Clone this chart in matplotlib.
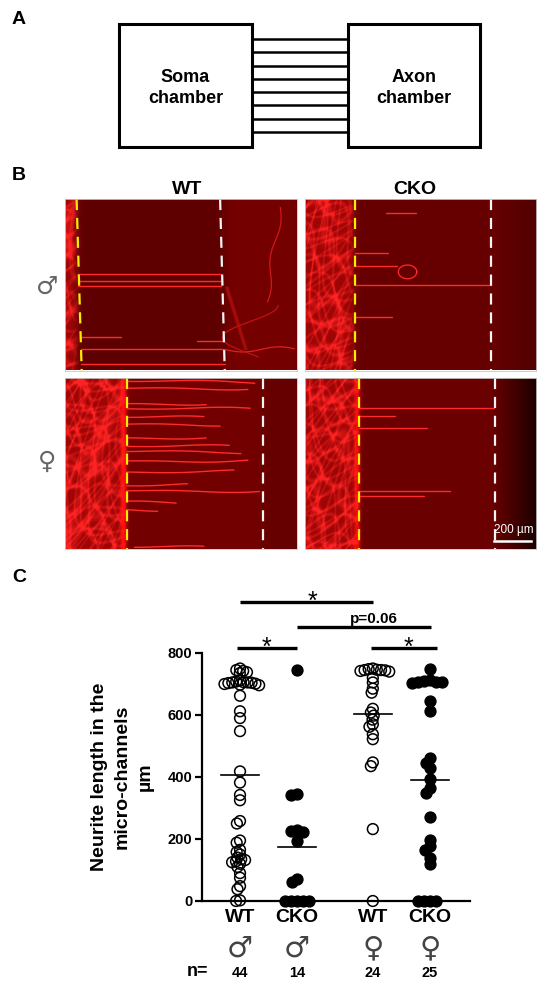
import numpy as np
import matplotlib
matplotlib.use('Agg')
import matplotlib.pyplot as plt
from matplotlib.patches import Rectangle

plt.rcParams['font.family'] = ['Liberation Sans', 'DejaVu Sans']

# ---------------- data ----------------
group_names = ['WT', 'CKO', 'WT', 'CKO']
group_sex = ['\u2642', '\u2642', '\u2640', '\u2640']
group_pos = [0.0, 1.0, 2.33, 3.33]
group_filled = [False, True, False, True]

wt_male = [750, 745, 742, 738, 735,
           712, 708, 706, 705, 705, 704, 703, 701, 700, 698, 696,
           662, 612, 590, 548,
           418, 382, 342, 325,
           258, 250, 195, 188, 165, 158, 150,
           140, 135, 132, 128, 125, 120,
           110, 90, 75, 48, 38, 2, 0]
cko_male = [745, 345, 342, 228, 225, 222, 195, 70, 60, 0, 0, 0, 0, 0]
wt_female = [750, 748, 746, 745, 745, 744, 742, 740, 720, 705, 685, 672,
             620, 608, 598, 585, 570, 562, 538, 522, 447, 435, 232, 0]
cko_female = [748, 712, 710, 708, 706, 705, 702, 645, 612,
              462, 446, 430, 392, 365, 350, 272,
              198, 178, 165, 140, 118, 0, 0, 0, 0]
group_values = [wt_male, cko_male, wt_female, cko_female]

y_ticks = [0, 200, 400, 600, 800]
y_label = 'Neurite length in the\nmicro-channels\n\u00b5m'
# (x_start, x_end, y, label, label_x)
sig_bars = [(-0.05, 1.0, 816, '*', 0.47),
            (2.30, 3.45, 816, '*', 2.95),
            (1.0, 3.35, 884, 'p=0.06', 2.35),
            (0.0, 2.33, 965, '*', 1.28)]

# panel A
chamber_names = ['Soma\nchamber', 'Axon\nchamber']
n_channels = 8

# panel B
b_columns = ['WT', 'CKO']
b_rows = ['\u2642', '\u2640']
# neurites: (y fraction, x start, x end)
tl_neurites = [(0.44, 0.055, 0.675), (0.48, 0.057, 0.675), (0.51, 0.058, 0.675),
               (0.805, 0.065, 0.24), (0.83, 0.57, 0.685), (0.877, 0.068, 0.685),
               (0.96, 0.07, 0.69)]
tr_neurites = [(0.08, 0.35, 0.48), (0.315, 0.217, 0.36), (0.39, 0.217, 0.40),
               (0.50, 0.217, 0.805), (0.69, 0.217, 0.377)]
bl_neurites = [(0.02, 0.267, 0.82), (0.06, 0.267, 0.79), (0.15, 0.267, 0.61),
               (0.18, 0.267, 0.80), (0.23, 0.267, 0.60), (0.27, 0.267, 0.67),
               (0.35, 0.267, 0.61), (0.40, 0.267, 0.71), (0.43, 0.267, 0.76),
               (0.485, 0.267, 0.79), (0.55, 0.267, 0.73), (0.63, 0.267, 0.53),
               (0.66, 0.267, 0.84), (0.72, 0.267, 0.48), (0.77, 0.267, 0.40),
               (0.99, 0.30, 0.60)]
br_neurites = [(0.175, 0.234, 0.82), (0.22, 0.234, 0.39), (0.29, 0.234, 0.53),
               (0.66, 0.234, 0.63), (0.69, 0.234, 0.515)]
# guide lines: (yellow top, yellow bottom, white top, white bottom)
tl_guides = (0.05, 0.072, 0.67, 0.69)
tr_guides = (0.217, 0.217, 0.807, 0.807)
bl_guides = (0.267, 0.267, 0.854, 0.854)
br_guides = (0.234, 0.234, 0.825, 0.825)
scale_bar_label = '200 \u00b5m'

# ---------------- figure ----------------
FW, FH = 550, 992
fig = plt.figure(figsize=(5.5, 9.92), dpi=100)


def ax_px(x0, y0, x1, y1):
    return fig.add_axes([x0 / FW, 1 - y1 / FH, (x1 - x0) / FW, (y1 - y0) / FH])


def fig_text(x, y, s, **kw):
    fig.text(x / FW, 1 - y / FH, s, **kw)


# panel labels
for lab, (x, y) in zip('ABC', [(19, 20), (19, 175), (19, 577)]):
    fig_text(x, y, lab, fontsize=14, fontweight='bold', ha='center', va='center')

# ---------------- panel A ----------------
axa = ax_px(0, 0, 550, 170)
axa.set_xlim(0, 550)
axa.set_ylim(170, 0)
axa.axis('off')
boxes = [(119, 252), (348, 480)]
for (x0, x1), name in zip(boxes, chamber_names):
    axa.add_patch(Rectangle((x0, 24), x1 - x0, 123, fill=False, lw=2.2, ec='black'))
    axa.text((x0 + x1) / 2, 88, name, ha='center', va='center', fontsize=13,
             fontweight='bold', linespacing=1.25)
for k in range(n_channels):
    yy = 39 + k * (132 - 39) / (n_channels - 1)
    axa.plot([252, 348], [yy, yy], color='black', lw=1.8)


# ---------------- panel B ----------------
def texture(w, h, dense, seed, base, right_base=None, white_x=None,
            right_dark=0.0, edge_band=0.0):
    X, Y = np.meshgrid(np.arange(w, dtype=float), np.arange(h, dtype=float))
    u = X / w
    m = np.zeros((h, w))
    for i in range(8):
        ang = 0.41 * i + seed
        f = 0.11 + 0.025 * (i % 3)
        warp = 2.4 * np.sin(0.055 * X * (1 + 0.08 * i) + 0.045 * Y * (1 - 0.05 * i) + 1.3 * i + seed)
        t = np.sin(f * (X * np.cos(ang) + Y * np.sin(ang)) + warp)
        m += np.exp(-t ** 2 / 0.05)
    I = np.clip(m * 0.42, 0, 1)
    mask = 1 / (1 + np.exp((u - dense) * w / 2.0))
    b = np.full((h, w), base)
    if right_base is not None:
        rmask = 1 / (1 + np.exp(-(u - white_x) * w / 3.0))
        b = b * (1 - rmask) + right_base * rmask
    if right_dark > 0:
        b = b * (1 - right_dark * np.clip((u - 0.8) / 0.2, 0, 1))
    band = edge_band * np.exp(-((u - dense) * w / 3.0) ** 2)
    dense_r = 0.62 * (1 - I) + 1.0 * I
    dense_g = 0.02 * (1 - I) + 0.14 * I
    r = b * (1 - mask) + dense_r * mask + band
    g = 0.0 * (1 - mask) + dense_g * mask + 0.1 * band
    img = np.dstack([np.clip(r, 0, 1), np.clip(g, 0, 1), np.clip(g, 0, 1)])
    return img


panels = [
    ((65, 199, 296.5, 370.5), 0.045, 0.3, 0.37, 0.46, 0.0, 0.0, tl_neurites, tl_guides, False),
    ((304.5, 199, 536, 370.5), 0.205, 1.1, 0.40, None, 0.2, 0.0, tr_neurites, tr_guides, False),
    ((65, 378, 296.5, 549), 0.25, 2.0, 0.45, 0.40, 0.0, 0.5, bl_neurites, bl_guides, True),
    ((304.5, 378, 536, 549), 0.222, 2.9, 0.42, None, 0.75, 0.4, br_neurites, br_guides, False),
]
for idx, (rect, dense, seed, base, rbase, rdark, eband, neur, guides, wavy) in enumerate(panels):
    ax = ax_px(*rect)
    w = int(rect[2] - rect[0])
    h = int(rect[3] - rect[1])
    img = texture(w, h, dense, seed, base, rbase, guides[3], rdark, eband)
    ax.imshow(img, extent=(0, 1, 1, 0), aspect='auto', interpolation='bilinear')
    ax.set_xlim(0, 1)
    ax.set_ylim(1, 0)
    ax.set_xticks([])
    ax.set_yticks([])
    for sp in ax.spines.values():
        sp.set_color('#c8c8c8')
        sp.set_linewidth(0.6)
    for j, (yv, x0, x1) in enumerate(neur):
        xs = np.linspace(x0, x1, 60)
        if wavy:
            ys = yv + 0.012 * np.sin(9 * xs + 1.7 * j) * (xs - x0) / max(x1 - x0, 0.01)
        else:
            ys = np.full_like(xs, yv)
        ax.plot(xs, ys, color='#ff2b2b', lw=1.0, solid_capstyle='round')
    if idx == 0:
        # faint processes in the axon compartment
        tt = np.linspace(0, 1, 80)
        ax.plot(0.93 - 0.06 * tt + 0.012 * np.sin(9 * tt), 0.05 + 0.55 * tt, color='#d01818', lw=0.9)
        ax.plot(0.69 + 0.30 * tt, 0.877 + 0.015 * np.sin(6 * tt), color='#e02020', lw=0.9)
        ax.plot(0.80 + 0.12 * np.cos(5 * tt), 0.62 + 0.3 * tt, color='#c81414', lw=0.8)
        ax.plot(0.70 + 0.08 * tt, 0.52 + 0.35 * tt, color='#b81010', lw=2.5, alpha=0.7)
    if idx == 1:
        tt = np.linspace(0, 2 * np.pi, 60)
        ax.plot(0.445 + 0.04 * np.cos(tt), 0.425 + 0.04 * np.sin(tt), color='#ff2b2b', lw=0.9)
    ax.plot([guides[0], guides[1]], [0, 1], color='#ffee00', lw=1.6, dashes=(5, 3.5))
    ax.plot([guides[2], guides[3]], [0, 1], color='#f4f4f4', lw=1.6, dashes=(5, 3.5))
    if idx == 3:
        ax.plot([0.82, 0.98], [0.955, 0.955], color='white', lw=1.8)
        ax.text(0.905, 0.925, scale_bar_label, color='white', fontsize=8.5, ha='center', va='bottom')

for name, x in zip(b_columns, [187, 415]):
    fig_text(x, 190, name, fontsize=14, fontweight='bold', ha='center', va='center')
for sym, y in zip(b_rows, [287, 462]):
    fig_text(47, y, sym, fontsize=18, color='#666666', ha='center', va='center',
             family=['DejaVu Sans'])

# ---------------- panel C ----------------
axc = ax_px(202, 653, 470, 901)
xl0, xl1 = -0.667, 4.035
axc.set_xlim(xl0, xl1)
axc.set_ylim(0, 800)
sx = 268 / (xl1 - xl0)
sy = 248 / 800.0
swarm_spacing = [4.0, 6.0, 4.2, 6.0]


def swarm(vals, d):
    vals = np.asarray(vals, float)
    order = np.argsort(-vals, kind='stable')
    placed = []
    offs = np.zeros(len(vals))
    for i in order:
        yi = vals[i] * sy
        cands = [0.0]
        for (xj, yj) in placed:
            dy = yi - yj
            if abs(dy) < d:
                dx = np.sqrt(d * d - dy * dy)
                cands += [xj + dx, xj - dx]
        cands = sorted(cands, key=lambda c: (abs(c), c))
        for c in cands:
            ok = all((c - xj) ** 2 + (yi - yj) ** 2 >= d * d - 1e-6 for (xj, yj) in placed)
            if ok:
                offs[i] = c
                placed.append((c, yi))
                break
    return offs


for pos, vals, filled, dsp in zip(group_pos, group_values, group_filled, swarm_spacing):
    offs = swarm(vals, dsp)
    axc.scatter(pos + offs / sx, vals, s=60,
                facecolor='black' if filled else 'none',
                edgecolor='black', linewidths=1.1, clip_on=False, zorder=3)
    m = float(np.mean(vals))
    axc.plot([pos - 0.33, pos + 0.33], [m, m], color='black', lw=1.2, zorder=4,
             clip_on=False)

for sp in ['top', 'right']:
    axc.spines[sp].set_visible(False)
axc.spines['left'].set_bounds(0, 800)
axc.spines['left'].set_linewidth(1.6)
axc.spines['bottom'].set_linewidth(1.6)
axc.set_yticks(y_ticks)
axc.set_yticklabels([str(v) for v in y_ticks], fontsize=10.5, fontweight='bold')
axc.tick_params(axis='y', length=5, width=1.6, pad=2)
axc.set_xticks([])

tr = axc.get_xaxis_transform()
for pos, name, sym, vals in zip(group_pos, group_names, group_sex, group_values):
    axc.text(pos, -0.0685, name, transform=tr, ha='center', va='center',
             fontsize=14, fontweight='bold')
    axc.text(pos, -0.19, sym, transform=tr, ha='center', va='center',
             fontsize=21, color='#444444', family=['DejaVu Sans'])
    axc.text(pos, -0.29, str(len(vals)), transform=tr, ha='center', va='center',
             fontsize=10.5, fontweight='bold')
fig_text(198, 972, 'n=', fontsize=13, fontweight='bold', ha='center', va='center')

for x0, x1, yb, lab, lx in sig_bars:
    axc.plot([x0, x1], [yb, yb], color='black', lw=2.4, clip_on=False,
             solid_capstyle='butt')
    if lab == '*':
        axc.annotate(lab, xy=(lx, yb), xytext=(0, -5), textcoords='offset points',
                     ha='center', va='baseline', fontsize=18, annotation_clip=False)
    else:
        axc.annotate(lab, xy=(lx, yb), xytext=(0, 2.5), textcoords='offset points',
                     ha='center', va='baseline', fontsize=11, fontweight='bold',
                     annotation_clip=False)

fig_text(122, 777, y_label, rotation=90, ha='center', va='center', fontsize=14,
         fontweight='bold', multialignment='center', linespacing=1.45)

fig.savefig('out.png', dpi=100)
